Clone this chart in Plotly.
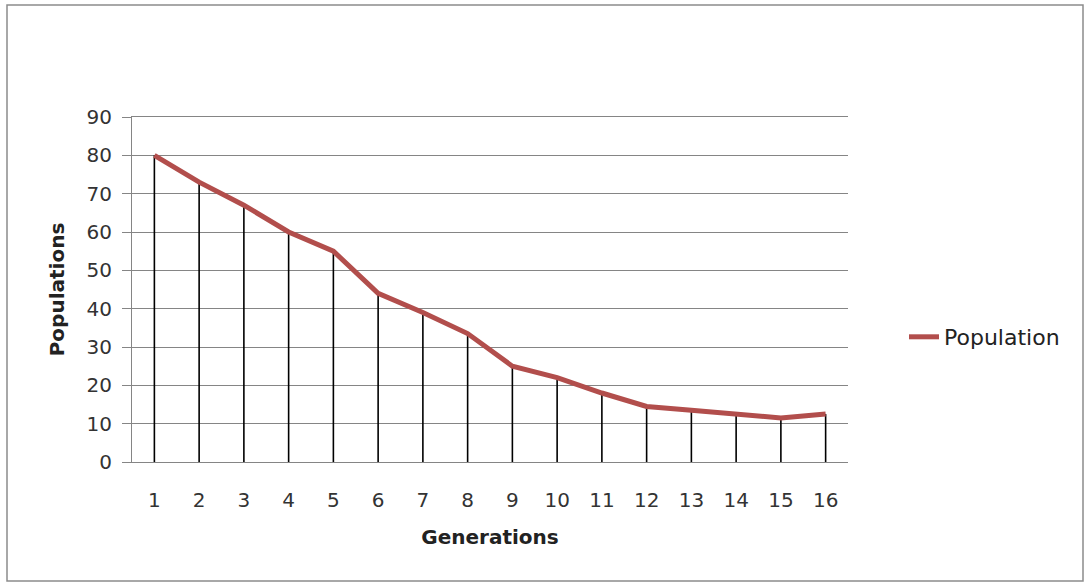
import plotly.graph_objects as go

# Data
generations = [str(g) for g in range(1, 17)]
population = [80, 73, 67, 60, 55, 44, 39, 33.5, 25, 22, 18, 14.5, 13.5, 12.5, 11.5, 12.5]
y_ticks = [0, 10, 20, 30, 40, 50, 60, 70, 80, 90]

FONT = "DejaVu Sans, Verdana, sans-serif"
GRID = "#858585"

# Build drop lines from the baseline to each point
drop_x, drop_y = [], []
for g, p in zip(generations, population):
    drop_x += [g, g, None]
    drop_y += [0, p, None]

fig = go.Figure()

fig.add_trace(go.Scatter(
    x=drop_x,
    y=drop_y,
    mode="lines",
    line=dict(color="black", width=1.6),
    showlegend=False,
    hoverinfo="skip"
))

fig.add_trace(go.Scatter(
    x=generations,
    y=population,
    mode="lines",
    name="Population",
    line=dict(color="#B24E4C", width=5)
))

# Plot area in pixels: x 132..848, y 117..462
W, H = 1091, 588
L, R, T, B = 132, 848, 117, 462
pw, ph = R - L, B - T

def px_x(v):
    return (v - L) / pw

def px_y(v):
    return (B - v) / ph

fig.update_layout(
    width=W,
    height=H,
    margin=dict(l=L, r=W - R, t=T, b=H - B),
    paper_bgcolor="white",
    plot_bgcolor="white",
    font=dict(family=FONT, size=20, color="#333333"),
    legend=dict(
        x=px_x(904), y=px_y(337), xanchor="left", yanchor="middle",
        font=dict(family=FONT, size=22, color="#222222"),
        bgcolor="rgba(0,0,0,0)"
    ),
    shapes=[dict(
        type="rect", xref="paper", yref="paper",
        x0=px_x(7), x1=px_x(1083), y0=px_y(581), y1=px_y(5),
        line=dict(color="#8C8C8C", width=1.5)
    )]
)

fig.update_xaxes(
    type="category",
    range=[-0.5, 15.5],
    showgrid=False,
    showline=True,
    mirror=True,
    linecolor=GRID,
    linewidth=1,
    ticks="",
    ticklabelstandoff=20,
    tickfont=dict(family=FONT, size=20, color="#333333"),
    title=dict(text="<b>Generations</b>", standoff=18,
               font=dict(family=FONT, size=20, color="#222222"))
)

fig.update_yaxes(
    range=[0, 90],
    tickvals=y_ticks,
    showgrid=True,
    gridcolor=GRID,
    gridwidth=1,
    showline=True,
    linecolor=GRID,
    linewidth=1,
    ticks="outside",
    ticklen=9,
    tickcolor=GRID,
    zeroline=False,
    ticklabelstandoff=6,
    tickfont=dict(family=FONT, size=20, color="#333333"),
    title=dict(text="<b>Populations</b>", standoff=16,
               font=dict(family=FONT, size=20, color="#222222"))
)

fig.write_html("out.html", config={"displayModeBar": False},
               post_script="document.body.style.margin='0';")
